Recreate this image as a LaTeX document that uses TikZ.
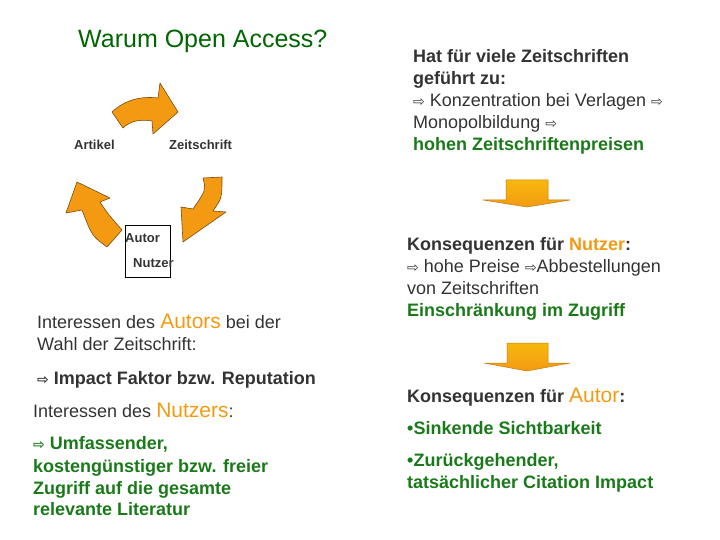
\documentclass[tikz,border=0pt]{standalone}
\usepackage{fontspec}
\setmainfont{Liberation Sans}
\newfontfamily\arr{DejaVu Sans}
\definecolor{dk}{HTML}{333333}
\definecolor{gr}{HTML}{1A7A1A}
\definecolor{orr}{HTML}{F39A12}
\definecolor{ored}{HTML}{7A4A10}
\newcommand{\ar}{{\arr\fontsize{14}{14}\selectfont ⇨}}
\begin{document}
\begin{tikzpicture}[x=1pt,y=-1pt,
  t/.style={anchor=base west,inner sep=0pt,text=dk,font=\fontsize{18}{18}\selectfont},
  tb/.style={t,font=\bfseries\fontsize{18}{18}\selectfont},
  tg/.style={tb,text=gr},
  sm/.style={anchor=base west,inner sep=0pt,text=dk,font=\bfseries\fontsize{13}{13}\selectfont},
  ca/.style={fill=orr,draw=ored,line width=0.6pt,line join=round},
  da/.style={top color=orr!70!yellow,bottom color=orr,draw=orr!80!black,line width=0.5pt}]
\useasboundingbox (0,0) rectangle (720,540);
\node[anchor=base west,inner sep=0pt,font=\fontsize{25}{25}\selectfont] (title) at (78,48) {\color{green!40!black}Warum Open Access?};
% cycle arrows
\path[ca] (112,112) .. controls (125,100) and (140,96) .. (158,98) -- (160,83) -- (178,112) -- (153,134) -- (152,121) .. controls (140,119) and (130,121) .. (123,128) -- cycle;
\path[ca] (203,178) .. controls (206,190) .. (193,209) -- (181,207) -- (183,242) -- (226,212) -- (213,211) .. controls (222,198) .. (222,177) -- cycle;
\path[ca] (66,213) -- (77,182) -- (110,198) -- (100,202) .. controls (108,214) .. (122,230) -- (107,247) .. controls (92,236) .. (82,210) -- cycle;
\node[sm] (art) at (74,150) {Artikel};
\node[sm] (zs) at (169,150) {Zeitschrift};
\draw[black,line width=0.5pt] (125,225) rectangle (170,277);
\node[sm] (aut) at (125,242) {Autor};
\node[sm] (nut) at (133,267) {Nutzer};
% left text
\node[t] (l1) at (37,328) {Interessen des {\fontsize{21}{21}\selectfont\color{orr}Autors} bei der};
\node[t] (l2) at (37,350) {Wahl der Zeitschrift:};
\node[tb] (l3) at (37,384) {\ar\ Impact Faktor bzw. Reputation};
\node[t] (l4) at (33,417) {Interessen des {\fontsize{21}{21}\selectfont\color{orr}Nutzers}:};
\node[tg] (l5) at (33,449) {\ar\ Umfassender,};
\node[tg] (l6) at (33,472) {kostengünstiger bzw. freier};
\node[tg] (l7) at (33,494) {Zugriff auf die gesamte};
\node[tg] (l8) at (33,515) {relevante Literatur};
% right text
\node[tb] (r1) at (413,63) {Hat für viele Zeitschriften};
\node[tb] (r2) at (413,85) {geführt zu:};
\node[t] (r3) at (413,107) {\ar\ Konzentration bei Verlagen \ar};
\node[t] (r4) at (413,129) {Monopolbildung \ar};
\node[tg] (r5) at (413,151) {hohen Zeitschriftenpreisen};
\path[da] (506,180) -- (548,180) -- (548,200) -- (570,200) -- (527,207) -- (483,200) -- (506,200) -- cycle;
\node[tb] (r6) at (407,250) {Konsequenzen für {\color{orr}Nutzer}:};
\node[t] (r7) at (407,272) {\ar\ hohe Preise \ar Abbestellungen};
\node[t] (r8) at (407,294) {von Zeitschriften};
\node[tg] (r9) at (407,316) {Einschränkung im Zugriff};
\path[da] (507,343) -- (548,343) -- (548,363) -- (570,363) -- (527,371) -- (484,363) -- (507,363) -- cycle;
\node[tb] (r10) at (407,402) {Konsequenzen für {\mdseries\fontsize{21}{21}\selectfont\color{orr}Autor}:};
\node[tg] (r11) at (407,434) {•Sinkende Sichtbarkeit};
\node[tg] (r12) at (407,466) {•Zurückgehender,};
\node[tg] (r13) at (407,488) {tatsächlicher Citation Impact};
\end{tikzpicture}
\end{document}
